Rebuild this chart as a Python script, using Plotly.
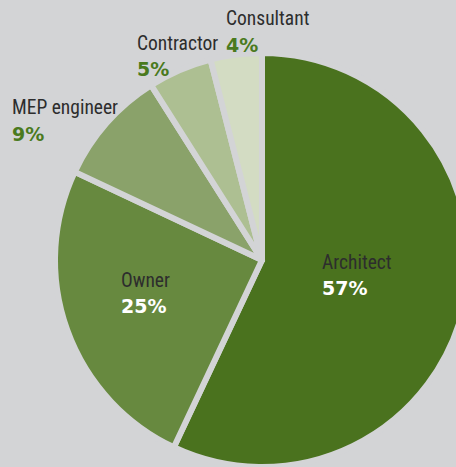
import plotly.graph_objects as go

# data
roles = ["Architect", "Owner", "MEP engineer", "Contractor", "Consultant"]
shares = [57, 25, 9, 5, 4]
slice_colors = ["#4a721e", "#67893f", "#8aa26a", "#adbf92", "#d3dcc3"]

# label placement (pixel left / name baseline) and percent colour
label_x = [322, 121, 12, 137, 226]
label_base = [269, 287, 115, 50, 26]
pct_colors = ["#ffffff", "#ffffff", "#4a7a1e", "#4a7a1e", "#4a7a1e"]

BG = "#d3d4d6"
W, H = 470, 467
NARROW = "Roboto Condensed, DejaVu Sans Condensed, Liberation Sans Narrow, Arial Narrow, sans-serif"

fig = go.Figure(
    go.Pie(
        labels=roles,
        values=shares,
        sort=False,
        direction="clockwise",
        rotation=0,
        textinfo="none",
        hoverinfo="label+percent",
        marker=dict(colors=slice_colors, line=dict(color=BG, width=6)),
        domain=dict(x=[55 / W, 469 / W], y=[0, 414 / H]),
        showlegend=False,
    )
)

total = sum(shares)
for name, val, x, base, pc in zip(roles, shares, label_x, label_base, pct_colors):
    pct = round(100 * val / total)
    fig.add_annotation(
        x=(x - 2) / W, y=1 - (base - 7) / H, xref="paper", yref="paper",
        xanchor="left", yanchor="middle", align="left", showarrow=False,
        text=name,
        font=dict(family=NARROW, size=19.5, color="#2d2d2d"),
    )
    fig.add_annotation(
        x=(x - 2) / W, y=1 - (base + 26 - 7) / H, xref="paper", yref="paper",
        xanchor="left", yanchor="middle", align="left", showarrow=False,
        text="<b>%d%%</b>" % pct,
        font=dict(family="DejaVu Sans", size=19, color=pc),
    )

fig.update_layout(
    width=W,
    height=H,
    margin=dict(l=0, r=0, t=0, b=0),
    paper_bgcolor=BG,
    plot_bgcolor=BG,
)

fig.write_html(
    "out.html",
    config={"displayModeBar": False},
    post_script="document.body.style.margin='0';document.body.style.overflow='hidden';",
)
